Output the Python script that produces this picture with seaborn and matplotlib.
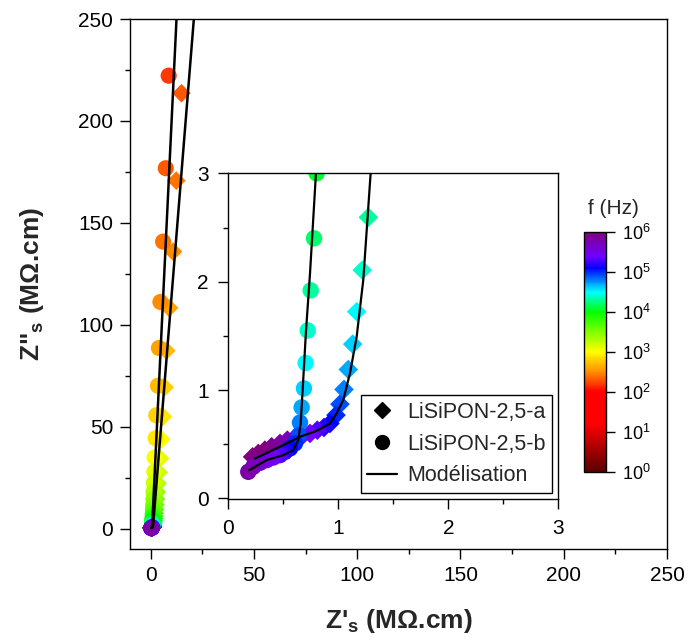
import matplotlib
matplotlib.use("Agg")
import matplotlib.pyplot as plt
from matplotlib.colors import LinearSegmentedColormap, Normalize
from matplotlib.cm import ScalarMappable
from matplotlib.lines import Line2D
from matplotlib.ticker import MultipleLocator
import pandas as pd
import seaborn as sns

# ---- data (MOhm.cm) ----
# LiSiPON-2,5-a (diamonds), low -> high frequency
za_re = [14.9, 12.4, 10.8, 8.9, 7.6, 6.8, 6.0, 5.2, 4.5, 3.9, 3.4, 2.95, 2.6, 2.3,
         2.05, 1.85, 1.7, 1.56, 1.45, 1.36, 1.273, 1.218, 1.167, 1.131, 1.091,
         1.052, 1.015, 0.979, 0.924, 0.870, 0.809, 0.743, 0.667, 0.606, 0.537,
         0.470, 0.394, 0.333, 0.273, 0.221]
za_im = [213.6, 170.7, 135.9, 108.3, 87.3, 69.3, 54.9, 43.8, 34.5, 27.6, 22.2,
         17.9, 14.5, 11.7, 9.4, 7.6, 6.1, 4.95, 4.0, 3.22, 2.594, 2.107, 1.723,
         1.424, 1.19, 1.006, 0.87, 0.769, 0.692, 0.655, 0.63, 0.60, 0.575, 0.56,
         0.538, 0.508, 0.477, 0.446, 0.415, 0.384]
logf_a = [2.3, 2.4, 2.5, 2.6, 2.7, 2.8, 2.9, 3.0, 3.1, 3.2, 3.3, 3.4, 3.5, 3.6,
          3.7, 3.8, 3.9, 4.0, 4.1, 4.2, 4.3, 4.4, 4.5, 4.6, 4.7, 4.8, 4.9, 5.0,
          5.1, 5.2, 5.3, 5.4, 5.5, 5.6, 5.7, 5.8, 5.9, 6.0, 6.0, 6.0]

# LiSiPON-2,5-b (circles)
zb_re = [8.7, 7.3, 6.0, 4.7, 4.0, 3.5, 2.7, 2.4, 1.9, 1.75, 1.55, 1.4, 1.3, 1.2,
         1.1, 1.02, 0.95, 0.9, 0.85, 0.803, 0.779, 0.749, 0.722, 0.703, 0.688,
         0.667, 0.652, 0.643, 0.606, 0.561, 0.515, 0.470, 0.409, 0.349, 0.288,
         0.227, 0.182]
zb_im = [222.2, 176.8, 140.8, 111.2, 88.6, 70.1, 55.6, 44.3, 34.9, 27.9, 22.4,
         17.9, 14.3, 11.4, 9.2, 7.3, 5.9, 4.7, 3.75, 3.0, 2.40, 1.92, 1.55, 1.25,
         1.015, 0.84, 0.70, 0.584, 0.508, 0.462, 0.43, 0.40, 0.378, 0.354, 0.329,
         0.292, 0.246]
logf_b = [2.2, 2.3, 2.4, 2.5, 2.6, 2.7, 2.8, 2.9, 3.0, 3.1, 3.2, 3.3, 3.4, 3.5,
          3.6, 3.7, 3.8, 3.9, 4.0, 4.1, 4.2, 4.3, 4.4, 4.5, 4.6, 4.7, 4.8, 4.9,
          5.0, 5.1, 5.2, 5.3, 5.4, 5.5, 5.6, 5.7, 5.8]

# fitted curves (Modelisation)
fit_a_re = [0.243, 0.500, 0.652, 0.803, 0.924, 0.985, 1.045, 1.106, 1.167, 1.227,
            1.294, 20.9, 21.8]
fit_a_im = [0.369, 0.492, 0.569, 0.624, 0.692, 0.785, 0.908, 1.154, 1.492, 2.015,
            3.0, 250.0, 260.0]
fit_b_re = [0.191, 0.349, 0.500, 0.591, 0.636, 0.658, 0.676, 0.706, 0.743, 0.797,
            12.5, 13.0]
fit_b_im = [0.261, 0.354, 0.400, 0.446, 0.538, 0.692, 1.0, 1.538, 2.077, 3.0,
            250.0, 260.0]

labels = ["LiSiPON-2,5-a", "LiSiPON-2,5-b", "Modélisation"]
cbar_ticks = [0, 1, 2, 3, 4, 5, 6]

df_a = pd.DataFrame({"re": za_re, "im": za_im, "logf": logf_a})
df_b = pd.DataFrame({"re": zb_re, "im": zb_im, "logf": logf_b})

sns.set_theme(style="white")
plt.rcParams["font.family"] = ["Liberation Sans", "DejaVu Sans"]
plt.rcParams["mathtext.fontset"] = "custom"
plt.rcParams["mathtext.rm"] = "Liberation Sans"
plt.rcParams["mathtext.bf"] = "Liberation Sans:bold"
plt.rcParams["mathtext.it"] = "Liberation Sans:italic"

cmap = LinearSegmentedColormap.from_list("freq", [
    (0.0, "#5a0000"), (0.2, "#ff0000"), (0.333, "#ff0000"), (0.407, "#ff8000"),
    (0.5, "#ffff00"), (0.583, "#80ff00"), (0.667, "#00ff00"), (0.75, "#00ffff"),
    (0.85, "#0000ff"), (0.9, "#7000ff"), (1.0, "#800080")])
norm = Normalize(0, 6)


def style_axes(ax, pad):
    for s in ax.spines.values():
        s.set_visible(True)
        s.set_color("black")
        s.set_linewidth(1.0)
    ax.tick_params(which="both", direction="out", left=True, bottom=True,
                   top=False, right=False, colors="black", width=1.0)
    ax.tick_params(which="major", length=7, pad=pad, labelsize=15)
    ax.tick_params(which="minor", length=3.6)
    ax.grid(False)


fig = plt.figure(figsize=(6.88, 6.4), dpi=100)

# ---- main plot ----
ax = fig.add_axes([0.189, 0.1422, 0.7805, 0.8281])
sns.scatterplot(data=df_a, x="re", y="im", hue="logf", palette=cmap, hue_norm=norm,
                marker="D", s=90, linewidth=0, legend=False, ax=ax, zorder=2)
sns.scatterplot(data=df_b, x="re", y="im", hue="logf", palette=cmap, hue_norm=norm,
                marker="o", s=135, linewidth=0, legend=False, ax=ax, zorder=2)
sns.lineplot(x=fit_a_re, y=fit_a_im, sort=False, color="black", lw=1.8, ax=ax, zorder=3)
sns.lineplot(x=fit_b_re, y=fit_b_im, sort=False, color="black", lw=1.8, ax=ax, zorder=3)
ax.set_xlim(-10, 250)
ax.set_ylim(-10, 250)
ax.xaxis.set_major_locator(MultipleLocator(50))
ax.xaxis.set_minor_locator(MultipleLocator(25))
ax.yaxis.set_major_locator(MultipleLocator(50))
ax.yaxis.set_minor_locator(MultipleLocator(25))
style_axes(ax, 5)
ax.set_xlabel("Z'$_\\mathbf{s}$ (MΩ.cm)", fontsize=19, fontweight="bold", labelpad=16)
ax.set_ylabel('Z"$_\\mathbf{s}$ (MΩ.cm)', fontsize=19, fontweight="bold", labelpad=23)

# ---- inset ----
axi = fig.add_axes([0.3318, 0.2198, 0.4797, 0.5094])
axi.set_facecolor("white")
sns.scatterplot(data=df_a, x="re", y="im", hue="logf", palette=cmap, hue_norm=norm,
                marker="D", s=100, linewidth=0, legend=False, ax=axi, zorder=2)
sns.scatterplot(data=df_b, x="re", y="im", hue="logf", palette=cmap, hue_norm=norm,
                marker="o", s=140, linewidth=0, legend=False, ax=axi, zorder=2)
sns.lineplot(x=fit_a_re, y=fit_a_im, sort=False, color="black", lw=1.6, ax=axi, zorder=3)
sns.lineplot(x=fit_b_re, y=fit_b_im, sort=False, color="black", lw=1.6, ax=axi, zorder=3)
axi.set_xlim(0, 3)
axi.set_ylim(-0.008, 3)
axi.xaxis.set_major_locator(MultipleLocator(1))
axi.xaxis.set_minor_locator(MultipleLocator(0.5))
axi.yaxis.set_major_locator(MultipleLocator(1))
axi.yaxis.set_minor_locator(MultipleLocator(0.5))
style_axes(axi, 7)
axi.set_xlabel("")
axi.set_ylabel("")

handles = [
    Line2D([], [], marker="D", color="black", ls="none", markersize=8),
    Line2D([], [], marker="o", color="black", ls="none", markersize=10),
    Line2D([], [], color="black", lw=1.6),
]
leg = axi.legend(handles, labels, loc="lower right", fontsize=15.5, frameon=True,
                 fancybox=False, edgecolor="black", framealpha=1,
                 handlelength=1.4, handletextpad=0.45, labelspacing=0.5,
                 borderpad=0.3, borderaxespad=0.3)
leg.get_frame().set_linewidth(1.0)

# ---- colour bar ----
cax = fig.add_axes([0.8488, 0.263, 0.0316, 0.3745])
sm = ScalarMappable(norm=norm, cmap=cmap)
cb = fig.colorbar(sm, cax=cax, ticks=cbar_ticks)
cb.ax.set_yticklabels([f"$10^{{{k}}}$" for k in cbar_ticks])
cb.outline.set_linewidth(1.0)
cb.outline.set_edgecolor("black")
cb.ax.tick_params(direction="out", length=6.5, width=1.0, pad=5, labelsize=13,
                  colors="black", right=True)
fig.text(613 / 688, 1 - 208 / 640, "f (Hz)", fontsize=15, ha="center", va="center")

fig.savefig("out.png", dpi=100)
